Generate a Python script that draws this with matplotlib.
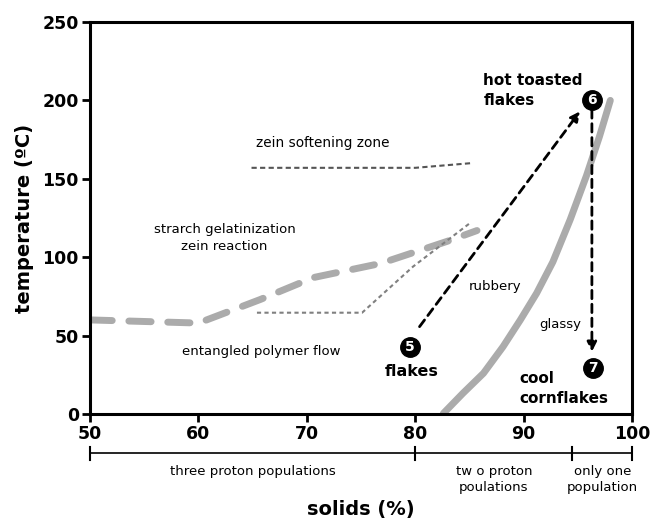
import matplotlib
matplotlib.use("Agg")
import matplotlib.pyplot as plt
import matplotlib.transforms as mtransforms

# ---- data ----
starch_x = [50, 60, 65.7, 70.6, 76.8, 82.9, 85.7]
starch_y = [60, 58, 73, 87, 96, 110, 117]

entangled_x = [65.4, 75.1, 79.8, 85.1]
entangled_y = [64.6, 64.6, 94, 122]

zein_x = [64.9, 80, 85.2]
zein_y = [157, 157, 160]

glassy_x = [82.6, 84.4, 86.3, 88.1, 89.7, 91.2, 92.7, 94.3, 95.8, 97.0, 98.0]
glassy_y = [0.4, 13.2, 26, 42.9, 60, 77, 97, 124, 152, 177, 200]

arrow1_start = (80.4, 55.7)
arrow1_end = (95.2, 193)
arrow2_start = (96.3, 194)
arrow2_end = (96.3, 39.7)

points_x = [79.5, 96.3, 96.4]
points_y = [43, 200, 29.3]
points_lab = ["5", "6", "7"]

x_ticks = [50, 60, 70, 80, 90, 100]
y_ticks = [0, 50, 100, 150, 200, 250]

bracket_edges = [50, 80, 94.5, 100]
bracket_labels = ["three proton populations", "tw o proton\npoulations", "only one\npopulation"]

# ---- figure ----
fig = plt.figure(figsize=(6.51, 5.23), dpi=100)
ax = fig.add_axes([90/651, 1-414/523, (632-90)/651, (414-22)/523])
ax.set_xlim(50, 100)
ax.set_ylim(0, 250)

gray = "#ababab"
ax.plot(starch_x, starch_y, color=gray, lw=5, dashes=(3.2, 2.4), solid_capstyle="round", dash_capstyle="round")
ax.plot(entangled_x, entangled_y, color="#808080", lw=1.5, dashes=(2, 1.6))
ax.plot(zein_x, zein_y, color="#555555", lw=1.5, dashes=(2.5, 1.6))
ax.plot(glassy_x, glassy_y, color=gray, lw=5, solid_capstyle="round", solid_joinstyle="round")

ax.annotate("", xy=arrow1_end, xytext=arrow1_start,
            arrowprops=dict(arrowstyle="-|>", color="black", lw=2, linestyle=(0, (3, 2)),
                            mutation_scale=14, shrinkA=0, shrinkB=0))
ax.annotate("", xy=arrow2_end, xytext=arrow2_start,
            arrowprops=dict(arrowstyle="-|>", color="black", lw=2, linestyle=(0, (3, 2)),
                            mutation_scale=14, shrinkA=0, shrinkB=0))

ax.plot(points_x, points_y, "o", color="black", markersize=14, zorder=5)
for px_, py_, lab in zip(points_x, points_y, points_lab):
    ax.text(px_, py_, lab, color="white", fontsize=10, fontweight="bold",
            ha="center", va="center", zorder=6)

# texts
ax.text(71.5, 173, "zein softening zone", fontsize=9.8, ha="center", va="center")
ax.text(62.4, 112, "strarch gelatinization\nzein reaction", fontsize=9.5, ha="center", va="center",
        linespacing=1.4)
ax.text(65.8, 40, "entangled polymer flow", fontsize=9.5, ha="center", va="center")
ax.text(87.4, 81, "rubbery", fontsize=9.5, ha="center", va="center")
ax.text(93.4, 57, "glassy", fontsize=9.5, ha="center", va="center")
ax.text(79.7, 27, "flakes", fontsize=11.5, fontweight="bold", ha="center", va="center")
ax.text(89.6, 16.3, "cool\ncornflakes", fontsize=11, fontweight="bold", ha="left", va="center",
        linespacing=1.4)
ax.text(86.3, 206.5, "hot toasted\nflakes", fontsize=11, fontweight="bold", ha="left", va="center",
        linespacing=1.4)

# axes styling
for s in ax.spines.values():
    s.set_linewidth(2.2)
ax.set_xticks(x_ticks)
ax.set_yticks(y_ticks)
ax.tick_params(axis="both", direction="out", length=6, width=2, labelsize=12.5, pad=2)
for lab in ax.get_xticklabels() + ax.get_yticklabels():
    lab.set_fontweight("bold")

ax.set_ylabel("temperature (ºC)", fontsize=14, fontweight="bold", labelpad=6)
fig.text(361/651, 1-510/523, "solids (%)", fontsize=14, fontweight="bold", ha="center", va="center")

# bracket below axis
trans = mtransforms.blended_transform_factory(ax.transData, ax.transAxes)
yb = (414-453)/392
ax.plot([bracket_edges[0], bracket_edges[-1]], [yb, yb], color="black", lw=1.2,
        transform=trans, clip_on=False)
for e in bracket_edges:
    ax.plot([e, e], [yb + 6/392, yb - 7/392], color="black", lw=1.5, transform=trans, clip_on=False)
for i, lab in enumerate(bracket_labels):
    cx = (bracket_edges[i] + bracket_edges[i+1]) / 2
    ax.text(cx, yb - 12/392, lab, fontsize=9.5, ha="center", va="top", transform=trans,
            linespacing=1.3)

fig.savefig("out.png", dpi=100)
